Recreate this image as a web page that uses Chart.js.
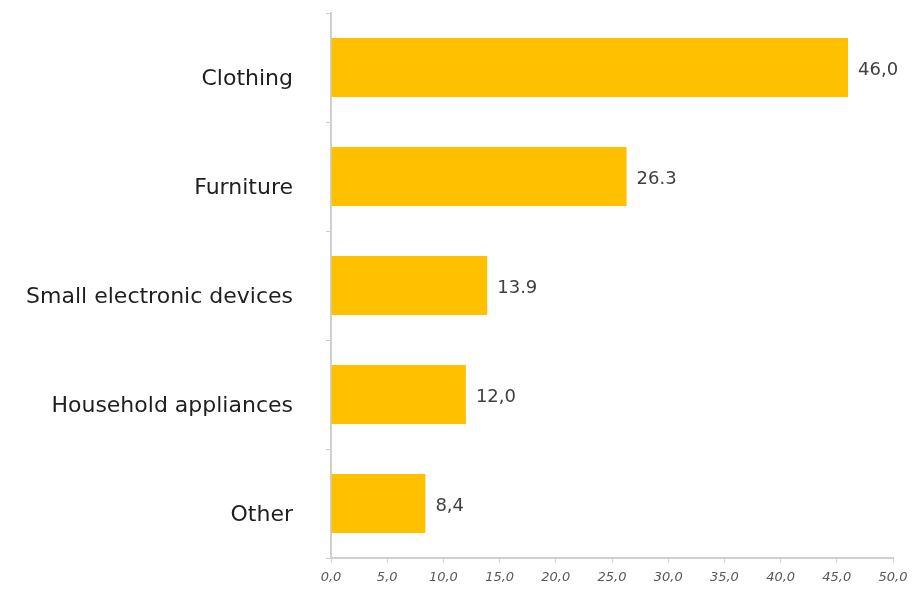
<!DOCTYPE html>
<html>
<head>
<meta charset="utf-8">
<script src="https://cdn.jsdelivr.net/npm/chart.js@4/dist/chart.umd.min.js"></script>
<style>
  html, body { margin: 0; padding: 0; background: #fff; }
  #wrap { width: 914px; height: 597px; }
</style>
</head>
<body>
<div id="wrap"><canvas id="barChart" width="914" height="597"></canvas></div>
<script>
// --------------------
// Data
// --------------------
const categories = ["Clothing", "Furniture", "Small electronic devices", "Household appliances", "Other"];
const values = [46.0, 26.3, 13.9, 12.0, 8.4];
const valueLabels = ["46,0", "26.3", "13.9", "12,0", "8,4"];
const xTickLabels = ["0,0", "5,0", "10,0", "15,0", "20,0", "25,0", "30,0", "35,0", "40,0", "45,0", "50,0"];

// --------------------
// Value labels at bar ends
// --------------------
const valueLabelPlugin = {
    id: "valueLabels",
    afterDatasetsDraw(chart) {
        const ctx = chart.ctx;
        const meta = chart.getDatasetMeta(0);
        ctx.save();
        ctx.font = "18px 'DejaVu Sans', sans-serif";
        ctx.fillStyle = "#404040";
        ctx.textAlign = "left";
        ctx.textBaseline = "middle";
        meta.data.forEach((bar, i) => {
            ctx.fillText(valueLabels[i], bar.x + 10, bar.y + 3);
        });
        ctx.restore();
    }
};

const ctx = document.getElementById("barChart").getContext("2d");

new Chart(ctx, {
    type: "bar",
    data: {
        labels: categories,
        datasets: [{
            data: values,
            backgroundColor: "#FFC000",
            borderWidth: 0,
            barPercentage: 0.54,
            categoryPercentage: 1.0
        }]
    },
    plugins: [valueLabelPlugin],
    options: {
        indexAxis: "y",
        responsive: false,
        animation: false,
        layout: { padding: { top: 13, right: 21, bottom: 0, left: 0 } },
        plugins: {
            legend: { display: false },
            tooltip: { enabled: false }
        },
        scales: {
            x: {
                min: 0,
                max: 50,
                ticks: {
                    stepSize: 5,
                    padding: 7,
                    maxRotation: 0,
                    color: "#595959",
                    font: { family: "'DejaVu Sans', sans-serif", size: 13, style: "italic" },
                    callback: (v, i) => xTickLabels[i]
                },
                grid: {
                    drawOnChartArea: false,
                    tickLength: 5,
                    color: "#cfcfcf"
                },
                border: { color: "#cfcfcf", width: 2 },
                afterFit(scale) {
                    scale.height = 39;
                    scale.paddingLeft = 0;
                    scale.paddingRight = 0;
                }
            },
            y: {
                ticks: {
                    padding: 33,
                    labelOffset: 12,
                    color: "#1f1f1f",
                    font: { family: "'DejaVu Sans', sans-serif", size: 22 }
                },
                grid: {
                    drawOnChartArea: false,
                    tickLength: 5,
                    color: "#cfcfcf"
                },
                border: { color: "#cfcfcf", width: 2 },
                afterFit(scale) {
                    scale.width = 331;
                    scale.paddingTop = 0;
                    scale.paddingBottom = 0;
                }
            }
        }
    }
});
</script>
</body>
</html>
